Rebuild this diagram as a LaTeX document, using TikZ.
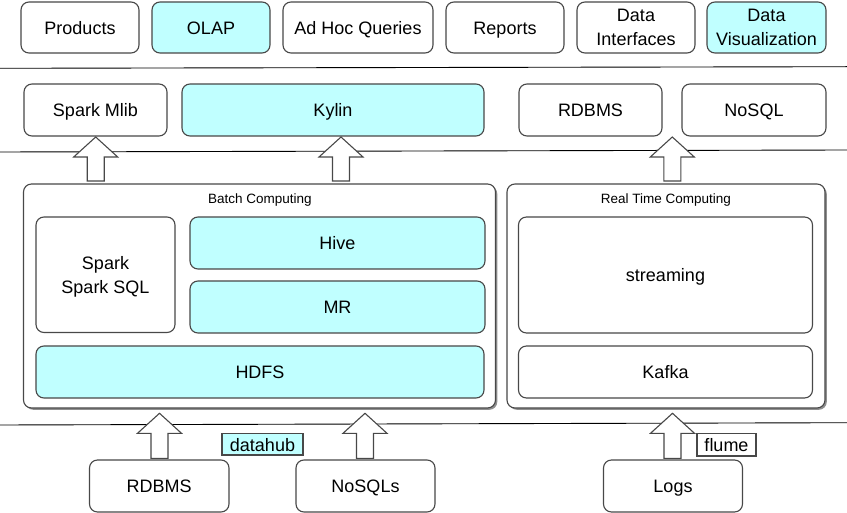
\documentclass[tikz,border=0pt]{standalone}
\usepackage{fontspec}
\setmainfont{Liberation Sans}
\usetikzlibrary{shadows}
\definecolor{cy}{RGB}{192,255,255}
\definecolor{bd}{RGB}{72,72,72}
\tikzset{
  lbl/.style={font=\fontsize{18}{24}\selectfont},
  box/.style={lbl, draw=bd, line width=1.1pt, rounded corners=8pt, fill=white, align=center, inner sep=0pt},
  one/.style={text height=17.5pt, text depth=4pt},
  hl/.style={box, fill=cy},
  cont/.style={box, drop shadow={shadow xshift=1.8pt, shadow yshift=-1.8pt, fill=black!55, opacity=0.8}},
  tag/.style={lbl, draw=bd, line width=1.1pt, inner sep=0pt, one},
  sz/.style 2 args={minimum width=#1pt, minimum height=#2pt},
  ttl/.style={font=\fontsize{13.5}{16}\selectfont, text height=12pt, text depth=3pt},
  sep/.style={draw=black, line width=0.9pt},
  arr/.style={draw=bd, line width=1.1pt, fill=white, line join=miter},
  pics/uparr/.style={code={
    \draw[arr] (0,0) -- (22,20) -- (8.5,20) -- (8.5,#1) -- (-8.5,#1) -- (-8.5,20) -- (-22,20) -- cycle;}}
}
\begin{document}
\begin{tikzpicture}[x=1pt,y=-1pt]
\useasboundingbox (0,0) rectangle (847,513);
\fill[white] (0,0) rectangle (847,513);

% separators
\draw[sep] (0,68.3) -- (847,66.7);
\draw[sep] (0,152) -- (847,150);
\draw[sep] (0,425) -- (847,422.7);

% top row
\node[box, one, sz={118}{51}] (products) at (80,27.5) {Products};
\node[hl,  one, sz={118}{51}] (olap) at (211,27.5) {OLAP};
\node[box, one, sz={150}{51}] (adhoc) at (358,27.5) {Ad Hoc Queries};
\node[box, one, sz={118}{51}] (reports) at (505,27.5) {Reports};
\node[box, text height=36.4pt, text depth=0pt, sz={118}{51}] (dataint) at (636,27.5) {Data\\Interfaces};
\node[hl,  text height=36.4pt, text depth=0pt, sz={119}{51}] (datavis) at (766.5,27.5) {Data\\Visualization};

% second row
\node[box, one, sz={143}{52}] (mlib) at (95.5,110) {Spark Mlib};
\node[hl,  one, sz={302}{52}] (kylin) at (333,110) {Kylin};
\node[box, one, sz={143}{52}] (rdbmsT) at (590.5,110) {RDBMS};
\node[box, one, sz={144}{52}] (nosqlT) at (754,110) {NoSQL};

% batch computing
\node[cont, sz={472}{224}] (batch) at (259.5,296) {};
\node[ttl] (batchttl) at (260,199) {Batch Computing};
\node[box, text height=38.5pt, text depth=0pt, sz={139}{115.5}] (spark) at (105.5,274.75) {Spark\\Spark SQL};
\node[hl,  one, sz={295}{52}] (hive) at (337.5,243) {Hive};
\node[hl,  one, sz={295}{52}] (mr) at (337.5,307) {MR};
\node[hl,  one, sz={448}{52}] (hdfs) at (260,372) {HDFS};

% real time computing
\node[cont, sz={318}{224}] (rt) at (666,296) {};
\node[ttl] (rtttl) at (666,199) {Real Time Computing};
\node[box, one, sz={294}{116}] (streaming) at (665.5,275) {streaming};
\node[box, one, sz={294}{52}] (kafka) at (665.5,372) {Kafka};

% sources
\node[box, one, sz={139.5}{52}] (rdbmsB) at (159.25,486) {RDBMS};
\node[box, one, sz={139}{52}] (nosqls) at (365.5,486) {NoSQLs};
\node[box, one, sz={139}{52}] (logs) at (673,486) {Logs};

% block arrows
\pic at (95.7,137) {uparr=44};
\pic at (341,137) {uparr=44};
\pic at (672.3,137) {uparr=44};
\pic at (159.5,413.3) {uparr=45};
\pic at (365,413.3) {uparr=45};
\pic at (672.5,413.3) {uparr=45};

% tags
\node[tag, fill=cy, sz={81}{21.5}] (datahub) at (262.5,444.25) {datahub};
\node[tag, fill=white, sz={59}{22.5}] (flume) at (726.5,444.75) {flume};
\end{tikzpicture}
\end{document}
